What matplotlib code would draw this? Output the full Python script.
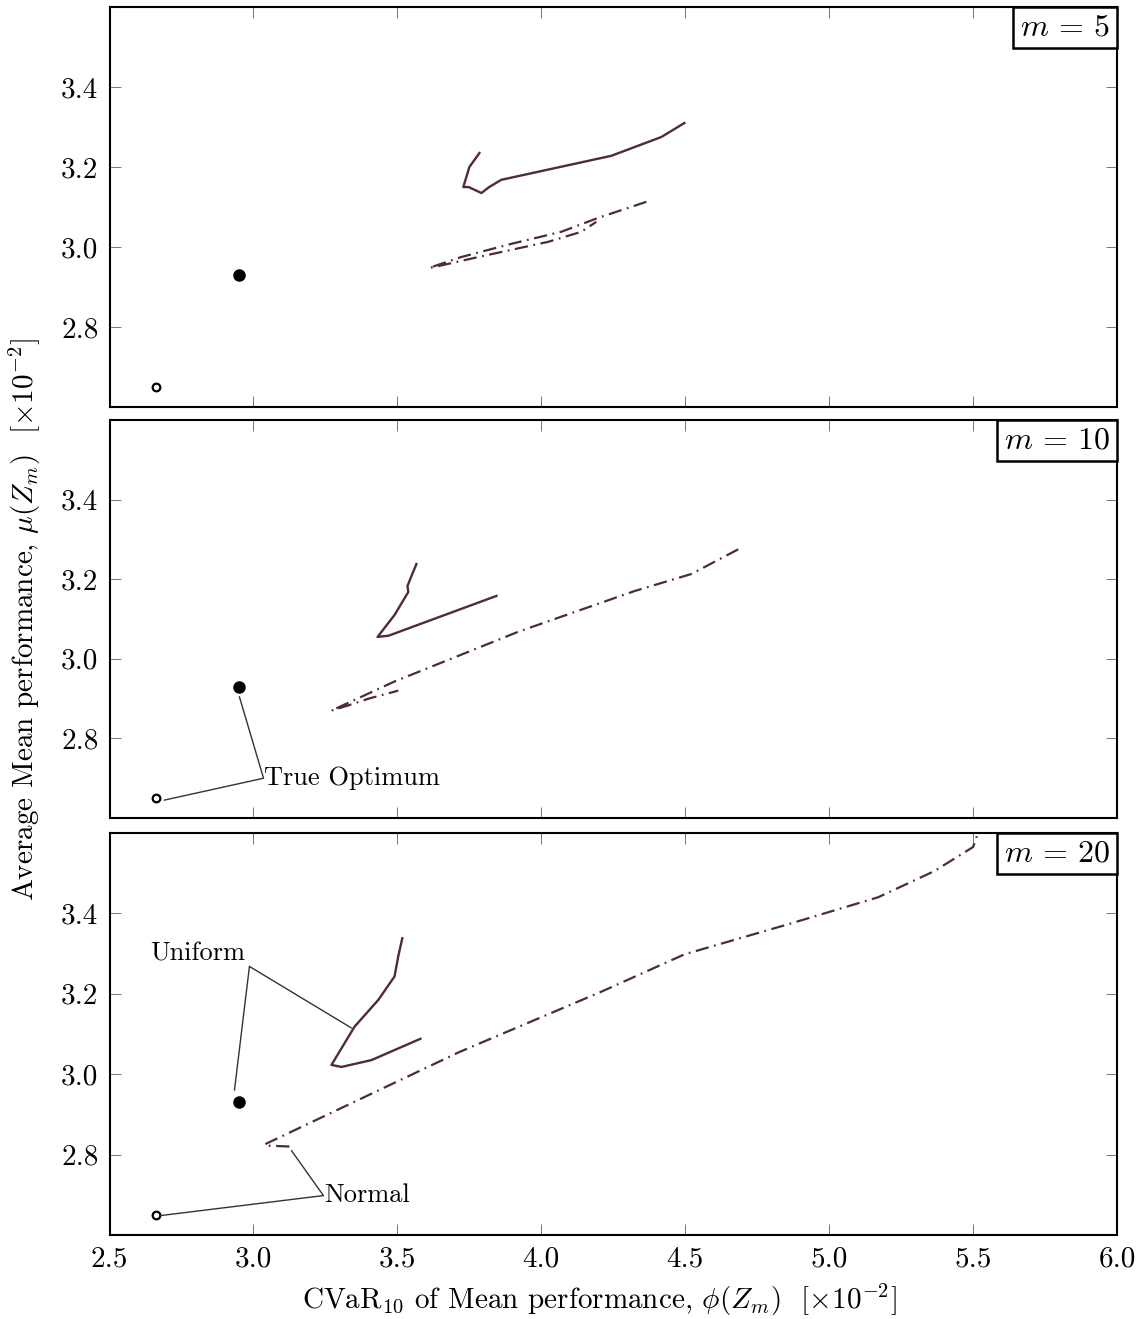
import matplotlib.pyplot as plt
from matplotlib.offsetbox import AnchoredText

plt.rcParams['font.family'] = 'serif'
plt.rcParams['font.serif'] = ['cmr10', 'DejaVu Serif']
plt.rcParams['mathtext.fontset'] = 'cm'
plt.rcParams['axes.formatter.use_mathtext'] = True

# sample sizes shown in each panel
m_values = [5, 10, 20]

# true optimum (filled) and reference point (open)
opt_x, opt_y = 2.95, 2.93
ref_x, ref_y = 2.66, 2.65

# Uniform sampling frontiers (solid)
uni_x = [
    [3.785, 3.75, 3.729, 3.747, 3.792, 3.819, 3.861, 4.243, 4.417, 4.497],
    [3.566, 3.55, 3.535, 3.538, 3.49, 3.431, 3.469, 3.844],
    [3.517, 3.503, 3.49, 3.434, 3.351, 3.271, 3.306, 3.41, 3.58],
]
uni_y = [
    [3.235, 3.20, 3.15, 3.15, 3.135, 3.15, 3.168, 3.228, 3.275, 3.31],
    [3.238, 3.21, 3.183, 3.168, 3.11, 3.055, 3.058, 3.158],
    [3.338, 3.293, 3.243, 3.185, 3.118, 3.023, 3.018, 3.035, 3.088],
]

# Normal sampling frontiers (dash-dot)
norm_x = [
    [4.365, 4.198, 4.069, 3.896, 3.722, 3.611, 3.628, 3.781, 4.024, 4.139, 4.191],
    [4.684, 4.521, 4.323, 3.92, 3.49, 3.271, 3.33, 3.40, 3.503],
    [3.125, 3.056, 3.038, 3.715, 4.208, 4.497, 4.858, 5.17, 5.365, 5.5, 5.517],
]
norm_y = [
    [3.113, 3.073, 3.038, 3.008, 2.975, 2.948, 2.95, 2.975, 3.013, 3.038, 3.063],
    [3.275, 3.213, 3.17, 3.068, 2.943, 2.87, 2.883, 2.90, 2.92],
    [2.82, 2.822, 2.825, 3.055, 3.205, 3.298, 3.373, 3.44, 3.505, 3.565, 3.60],
]

yticks = [2.8, 3.0, 3.2, 3.4]
xticks = [2.5, 3.0, 3.5, 4.0, 4.5, 5.0, 5.5, 6.0]

line_col = '#4e2c30'
dashdot = (0, (6, 2.5, 0.8, 2.5))

fig = plt.figure(figsize=(11.41, 13.19), dpi=100)
boxes = [(0.6914, 0.9947), (0.3798, 0.6816), (0.0637, 0.3685)]
axes = []
for (b, t) in boxes:
    axes.append(fig.add_axes([0.096, b, 0.883, t - b]))

for i, ax in enumerate(axes):
    ax.plot(uni_x[i], uni_y[i], color=line_col, lw=1.7, solid_joinstyle='round')
    ax.plot(norm_x[i], norm_y[i], color=line_col, lw=1.6, linestyle=dashdot)
    ax.plot(opt_x, opt_y, 'o', color='black', ms=8)
    ax.plot(ref_x, ref_y, 'o', mfc='white', mec='black', mew=1.6, ms=5.5)

    ax.set_xlim(2.5, 6.0)
    ax.set_ylim(2.6, 3.6)
    ax.set_xticks(xticks)
    ax.set_yticks(yticks)
    ax.set_yticklabels([f'{v:.1f}' for v in yticks])
    ax.tick_params(direction='in', top=True, right=True, length=8,
                   width=0.7, color='#777777', labelsize=21, pad=8)
    if i < 2:
        ax.tick_params(labelbottom=False)
    else:
        ax.set_xticklabels([f'{v:.1f}' for v in xticks])
    for s in ax.spines.values():
        s.set_linewidth(1.5)

    at = AnchoredText(f'$m\\,=\\,{m_values[i]}$', loc='upper right',
                      prop=dict(size=23), borderpad=0, pad=0.22, frameon=True)
    at.patch.set_linewidth(1.8)
    at.patch.set_boxstyle('square,pad=0')
    ax.add_artist(at)

ann_line = dict(arrowstyle='-', color='#333333', lw=1.0, shrinkA=0, shrinkB=0)

# True Optimum callout in the middle panel
ax = axes[1]
ax.text(3.037, 2.70, 'True Optimum', ha='left', va='center', fontsize=19)
ax.annotate('', xy=(2.951, 2.905), xytext=(3.035, 2.70), arrowprops=ann_line)
ax.annotate('', xy=(2.69, 2.645), xytext=(3.035, 2.70), arrowprops=ann_line)

# Uniform / Normal callouts in the bottom panel
ax = axes[2]
ax.text(2.97, 3.30, 'Uniform', ha='right', va='center', fontsize=19)
ax.annotate('', xy=(2.934, 2.96), xytext=(2.986, 3.268), arrowprops=ann_line)
ax.annotate('', xy=(3.34, 3.115), xytext=(2.986, 3.268), arrowprops=ann_line)
ax.text(3.245, 2.70, 'Normal', ha='left', va='center', fontsize=19)
ax.annotate('', xy=(3.132, 2.81), xytext=(3.243, 2.698), arrowprops=ann_line)
ax.annotate('', xy=(2.674, 2.648), xytext=(3.243, 2.698), arrowprops=ann_line)

fig.text(0.525, 0.0145,
         r'CVaR$_{10}$ of Mean performance, $\phi(Z_m)$  $[\times 10^{-2}]$',
         ha='center', va='center', fontsize=21)
fig.text(0.022, 0.53,
         r'Average Mean performance, $\mu(Z_m)$  $[\times 10^{-2}]$',
         ha='center', va='center', rotation=90, fontsize=21)

fig.savefig('out.png', dpi=100)
